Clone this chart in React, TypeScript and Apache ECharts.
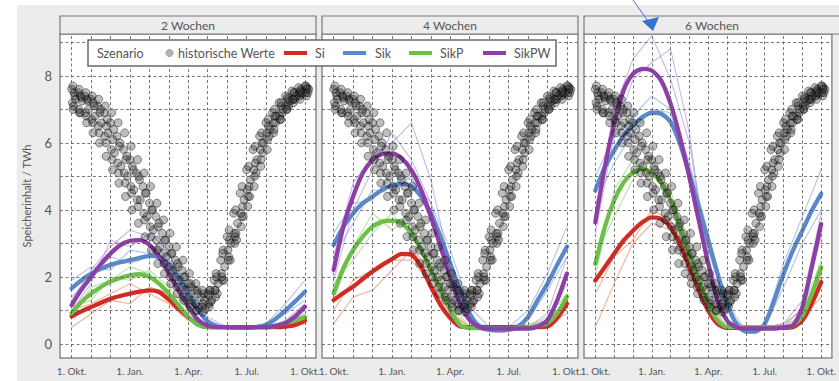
import React, { useEffect, useRef } from 'react';
import * as echarts from 'echarts';

const PANEL_TITLES = ['2 Wochen', '4 Wochen', '6 Wochen'];
const SCENARIOS = ['Si', 'Sik', 'SikP', 'SikPW'];
const X_TICK_VALUES = [0, 3, 6, 9, 12];
const X_TICK_LABELS = ['1. Okt.', '1. Jan.', '1. Apr.', '1. Jul.', '1. Okt.'];
const Y_TICK_VALUES = [0, 2, 4, 6, 8];
const MONTH_GRID = [0, 1, 2, 3, 4, 5, 6, 7, 8, 9, 10, 11, 12];
const VALUE_GRID = [0, 1, 2, 3, 4, 5, 6, 7, 8, 9];

// x positions: months since 1 Oct
const HALF_MONTHS = [0, 0.5, 1, 1.5, 2, 2.5, 3, 3.5, 4, 4.5, 5, 5.5, 6, 6.5, 7, 7.5, 8, 8.5, 9, 9.5, 10, 10.5, 11, 11.5, 12];
const MONTHS = [0, 1, 2, 3, 4, 5, 6, 7, 8, 9, 10, 11, 12];
const HIST_X = [0, 0.33, 0.67, 1, 1.33, 1.67, 2, 2.33, 2.67, 3, 3.33, 3.67, 4, 4.33, 4.67, 5, 5.33, 5.67, 6, 6.33, 6.67, 7, 7.33, 7.67, 8, 8.33, 8.67, 9, 9.33, 9.67, 10, 10.33, 10.67, 11, 11.33, 11.67, 12];
const HIST_SHIFT = [0, 0.08, 0.16, 0.04, 0.12, 0.2, 0.1, 0.06];

// historical storage levels (TWh), one array per year
const HIST_Y1 = [7.6, 7.5, 7.4, 7.3, 7.1, 6.9, 6.6, 6.2, 5.8, 5.5, 5.1, 4.7, 4.2, 3.8, 3.3, 2.9, 2.5, 2.2, 1.8, 1.6, 1.4, 1.5, 1.9, 2.5, 3.2, 3.9, 4.5, 5.2, 5.8, 6.2, 6.6, 6.9, 7.2, 7.4, 7.55, 7.65, 7.7];
const HIST_Y2 = [7.0, 6.9, 6.8, 6.6, 6.3, 6.0, 5.5, 5.1, 4.8, 4.5, 4.1, 3.7, 3.2, 2.8, 2.4, 2.0, 1.7, 1.4, 1.2, 1.0, 0.95, 1.1, 1.4, 1.9, 2.6, 3.2, 3.8, 4.4, 5.0, 5.5, 6.1, 6.4, 6.7, 7.0, 7.2, 7.3, 7.4];
const HIST_Y3 = [7.4, 7.35, 7.25, 7.1, 7.0, 6.7, 6.4, 6.0, 5.6, 5.2, 4.9, 4.5, 4.0, 3.6, 3.1, 2.7, 2.3, 2.0, 1.7, 1.5, 1.3, 1.25, 1.5, 1.9, 2.5, 3.1, 3.8, 4.4, 5.1, 5.7, 6.2, 6.6, 6.9, 7.1, 7.3, 7.45, 7.5];
const HIST_Y4 = [7.2, 7.0, 6.9, 6.7, 6.5, 6.2, 5.8, 5.4, 5.1, 4.7, 4.3, 3.9, 3.5, 3.1, 2.7, 2.3, 2.0, 1.7, 1.4, 1.2, 1.1, 1.2, 1.6, 2.1, 2.8, 3.3, 3.9, 4.6, 5.2, 5.8, 6.3, 6.6, 6.8, 7.1, 7.3, 7.4, 7.5];
const HIST_Y5 = [7.5, 7.4, 7.3, 7.2, 6.9, 6.5, 6.1, 5.9, 5.5, 5.3, 5.0, 4.5, 4.0, 3.5, 3.1, 2.7, 2.4, 2.0, 1.8, 1.6, 1.5, 1.6, 2.0, 2.8, 3.1, 3.3, 4.1, 4.7, 5.4, 6.0, 6.5, 6.8, 7.1, 7.3, 7.5, 7.6, 7.65];
const HIST_Y6 = [7.3, 7.25, 7.0, 6.8, 6.6, 6.3, 5.7, 5.3, 5.0, 4.6, 4.3, 3.8, 3.4, 2.9, 2.6, 2.2, 1.9, 1.6, 1.3, 1.1, 1.05, 1.3, 1.8, 2.3, 3.0, 3.6, 4.3, 4.9, 5.5, 6.0, 6.4, 6.8, 7.0, 7.25, 7.4, 7.5, 7.6];
const HIST_Y7 = [7.1, 6.9, 6.6, 6.3, 6.0, 5.6, 5.2, 4.8, 4.4, 4.0, 3.6, 3.2, 2.8, 2.4, 2.1, 1.8, 1.5, 1.3, 1.1, 1.0, 1.2, 1.6, 2.1, 2.7, 3.4, 4.0, 4.7, 5.3, 5.9, 6.3, 6.7, 7.0, 7.2, 7.35, 7.5, 7.55, 7.6];
const HIST_Y8 = [7.7, 7.6, 7.5, 7.4, 7.3, 7.1, 6.9, 6.6, 6.3, 5.9, 5.5, 5.1, 4.7, 4.2, 3.7, 3.3, 2.9, 2.5, 2.1, 1.8, 1.6, 1.45, 1.6, 2.0, 2.5, 3.0, 3.5, 4.1, 4.7, 5.3, 5.8, 6.3, 6.7, 7.0, 7.3, 7.5, 7.7];
const HIST_YEARS = [HIST_Y1, HIST_Y2, HIST_Y3, HIST_Y4, HIST_Y5, HIST_Y6, HIST_Y7, HIST_Y8];

// scenario means, half-monthly (TWh)
const MEAN_2W_SI = [0.82, 0.97, 1.1, 1.23, 1.35, 1.43, 1.5, 1.56, 1.6, 1.55, 1.32, 1.05, 0.8, 0.6, 0.5, 0.5, 0.5, 0.5, 0.5, 0.5, 0.5, 0.5, 0.52, 0.57, 0.7];
const MEAN_2W_SIK = [1.66, 1.9, 2.1, 2.24, 2.36, 2.44, 2.5, 2.57, 2.63, 2.6, 2.36, 1.96, 1.51, 1.01, 0.67, 0.52, 0.5, 0.48, 0.48, 0.5, 0.57, 0.75, 1.0, 1.27, 1.56];
const MEAN_2W_SIKP = [0.92, 1.25, 1.5, 1.7, 1.86, 1.97, 2.05, 2.08, 2.0, 1.8, 1.5, 1.16, 0.82, 0.57, 0.5, 0.5, 0.5, 0.5, 0.5, 0.5, 0.5, 0.54, 0.62, 0.7, 0.8];
const MEAN_2W_SIKPW = [1.16, 1.62, 2.0, 2.38, 2.7, 2.95, 3.08, 3.1, 2.96, 2.6, 2.1, 1.6, 1.11, 0.72, 0.54, 0.5, 0.5, 0.5, 0.5, 0.5, 0.5, 0.54, 0.62, 0.82, 1.11];

const MEAN_4W_SI = [1.31, 1.52, 1.71, 1.94, 2.16, 2.36, 2.53, 2.69, 2.66, 2.31, 1.71, 1.16, 0.77, 0.52, 0.5, 0.5, 0.5, 0.5, 0.5, 0.5, 0.5, 0.5, 0.52, 0.77, 1.2];
const MEAN_4W_SIK = [2.96, 3.5, 3.9, 4.2, 4.4, 4.6, 4.72, 4.78, 4.7, 4.4, 3.9, 3.2, 2.4, 1.6, 0.91, 0.52, 0.42, 0.4, 0.42, 0.52, 0.81, 1.31, 1.8, 2.36, 2.9];
const MEAN_4W_SIKP = [1.51, 2.26, 2.8, 3.2, 3.5, 3.65, 3.68, 3.6, 3.3, 2.8, 2.21, 1.61, 1.01, 0.57, 0.47, 0.47, 0.47, 0.47, 0.47, 0.47, 0.5, 0.54, 0.62, 0.92, 1.41];
const MEAN_4W_SIKPW = [2.21, 3.5, 4.4, 5.1, 5.49, 5.67, 5.69, 5.54, 5.19, 4.6, 3.8, 2.9, 2.0, 1.2, 0.71, 0.5, 0.46, 0.46, 0.46, 0.46, 0.46, 0.52, 0.71, 1.3, 2.1];

const MEAN_6W_SI = [1.89, 2.29, 2.69, 3.08, 3.38, 3.63, 3.78, 3.73, 3.48, 2.98, 2.29, 1.59, 0.99, 0.6, 0.48, 0.48, 0.48, 0.48, 0.48, 0.48, 0.48, 0.5, 0.7, 1.2, 1.84];
const MEAN_6W_SIK = [4.58, 5.27, 5.77, 6.22, 6.52, 6.77, 6.9, 6.87, 6.62, 5.97, 5.07, 4.08, 3.08, 2.09, 1.19, 0.6, 0.37, 0.37, 0.6, 1.29, 2.09, 2.79, 3.38, 3.98, 4.48];
const MEAN_6W_SIKP = [2.39, 3.48, 4.28, 4.82, 5.12, 5.22, 5.12, 4.82, 4.28, 3.48, 2.69, 1.89, 1.19, 0.7, 0.5, 0.5, 0.5, 0.5, 0.5, 0.5, 0.5, 0.55, 0.84, 1.49, 2.29];
const MEAN_6W_SIKPW = [3.63, 5.27, 6.57, 7.56, 8.06, 8.21, 8.16, 7.86, 7.17, 6.17, 4.97, 3.68, 2.39, 1.29, 0.7, 0.5, 0.46, 0.46, 0.46, 0.46, 0.5, 0.55, 1.1, 2.29, 3.58];

// single-year scenario runs, monthly (TWh)
const RUNS_2W_SI = [[0.5, 0.9, 1.3, 1.2, 1.7, 1.5, 0.8, 0.5, 0.5, 0.5, 0.5, 0.5, 0.6], [1.0, 1.2, 1.5, 1.8, 1.5, 1.2, 0.7, 0.5, 0.5, 0.5, 0.5, 0.6, 0.9]];
const RUNS_2W_SIK = [[1.9, 2.3, 2.2, 2.8, 2.7, 2.3, 1.5, 0.7, 0.5, 0.5, 0.6, 1.2, 1.9], [1.4, 2.0, 2.6, 2.4, 2.6, 2.5, 1.7, 0.8, 0.5, 0.5, 0.5, 0.9, 1.3]];
const RUNS_2W_SIKP = [[0.8, 1.7, 1.9, 2.3, 2.1, 1.6, 0.8, 0.5, 0.5, 0.5, 0.5, 0.6, 0.7], [1.1, 1.3, 2.0, 1.9, 2.2, 1.7, 1.0, 0.5, 0.5, 0.5, 0.5, 0.7, 1.0]];
const RUNS_2W_SIKPW = [[1.3, 2.2, 2.9, 3.4, 3.2, 2.5, 1.3, 0.6, 0.5, 0.5, 0.5, 0.7, 1.2], [1.0, 1.8, 3.1, 2.9, 3.3, 2.8, 1.1, 0.5, 0.5, 0.5, 0.5, 0.6, 1.0]];

const RUNS_4W_SI = [[0.6, 1.4, 1.6, 2.2, 2.8, 2.3, 1.0, 0.5, 0.5, 0.5, 0.5, 0.6, 0.9], [1.0, 1.9, 2.2, 2.5, 2.5, 1.8, 0.9, 0.5, 0.5, 0.5, 0.5, 0.7, 1.3]];
const RUNS_4W_SIK = [[3.3, 4.2, 4.3, 5.1, 4.9, 4.2, 2.8, 1.1, 0.5, 0.5, 1.0, 2.1, 3.5], [2.6, 3.6, 4.6, 4.5, 5.0, 3.7, 2.1, 0.8, 0.4, 0.5, 0.7, 1.6, 2.6]];
const RUNS_4W_SIKP = [[1.3, 2.9, 3.9, 3.4, 3.8, 2.6, 1.2, 0.5, 0.5, 0.5, 0.5, 0.8, 1.5], [1.8, 2.5, 3.3, 3.9, 3.2, 2.3, 0.9, 0.5, 0.5, 0.5, 0.6, 0.7, 1.2]];
const RUNS_4W_SIKPW = [[2.6, 4.8, 5.6, 6.0, 6.6, 4.9, 2.3, 0.7, 0.5, 0.5, 0.5, 0.9, 2.6], [1.9, 4.0, 5.2, 6.3, 5.5, 4.2, 1.8, 0.6, 0.5, 0.5, 0.5, 0.7, 1.8]];

const RUNS_6W_SI = [[0.5, 1.8, 3.0, 3.6, 3.4, 2.3, 1.0, 0.5, 0.5, 0.5, 0.5, 0.8, 1.4], [1.5, 2.6, 3.1, 4.0, 3.7, 2.6, 1.2, 0.5, 0.5, 0.5, 0.6, 1.0, 2.0]];
const RUNS_6W_SIK = [[5.0, 6.2, 6.8, 7.4, 7.0, 5.4, 3.3, 1.2, 0.4, 0.6, 2.4, 3.8, 5.2], [4.2, 5.4, 6.3, 7.0, 6.9, 5.0, 2.8, 1.0, 0.4, 0.5, 1.7, 3.0, 4.0]];
const RUNS_6W_SIKP = [[2.0, 4.6, 5.5, 5.0, 4.6, 2.9, 1.3, 0.5, 0.5, 0.5, 0.6, 1.0, 2.5], [2.6, 3.8, 4.9, 5.6, 4.2, 2.5, 1.0, 0.5, 0.5, 0.5, 0.5, 0.9, 1.9]];
const RUNS_6W_SIKPW = [[3.8, 7.0, 8.5, 9.2, 7.9, 6.0, 2.6, 0.7, 0.5, 0.5, 0.6, 1.3, 3.9], [3.3, 6.2, 7.9, 8.4, 8.8, 6.3, 2.2, 0.6, 0.5, 0.5, 0.5, 1.1, 3.2]];

const MEANS = [
  [MEAN_2W_SI, MEAN_2W_SIK, MEAN_2W_SIKP, MEAN_2W_SIKPW],
  [MEAN_4W_SI, MEAN_4W_SIK, MEAN_4W_SIKP, MEAN_4W_SIKPW],
  [MEAN_6W_SI, MEAN_6W_SIK, MEAN_6W_SIKP, MEAN_6W_SIKPW],
];
const RUNS = [
  [RUNS_2W_SI, RUNS_2W_SIK, RUNS_2W_SIKP, RUNS_2W_SIKPW],
  [RUNS_4W_SI, RUNS_4W_SIK, RUNS_4W_SIKP, RUNS_4W_SIKPW],
  [RUNS_6W_SI, RUNS_6W_SIK, RUNS_6W_SIKP, RUNS_6W_SIKPW],
];

const COLORS = ['#d42a24', '#5b88c9', '#6cc04a', '#8d3fa8'];
const THIN_COLORS = ['#ef8f68', '#8ea6de', '#98d483', '#b597df'];
const FONT = 'Lato, "Open Sans", sans-serif';
const TEXT = '#555';

const PANEL_LEFT = [60, 322, 584];
const PANEL_W = 256;
const PANEL_TOP = 34;
const PANEL_H = 324;

export default function App() {
  const ref = useRef<HTMLDivElement>(null);

  useEffect(() => {
    if (!ref.current) return;
    const chart = echarts.init(ref.current, undefined, { renderer: 'svg' });

    const grids: any[] = [];
    const xAxes: any[] = [];
    const yAxes: any[] = [];
    const series: any[] = [];

    PANEL_TITLES.forEach((_, p) => {
      grids.push({
        left: PANEL_LEFT[p], top: PANEL_TOP, width: PANEL_W, height: PANEL_H,
        show: true, backgroundColor: '#fff', borderColor: '#8a8a8a', borderWidth: 1.5,
      });
      xAxes.push({
        gridIndex: p, type: 'value', min: -0.6, max: 12.57,
        axisLine: { show: false }, axisTick: { show: false }, splitLine: { show: false },
        axisLabel: {
          customValues: X_TICK_VALUES,
          formatter: (v: number) => X_TICK_LABELS[X_TICK_VALUES.indexOf(Math.round(v))] ?? '',
          color: TEXT, fontSize: 10, fontFamily: FONT, margin: 8,
        },
      });
      yAxes.push({
        gridIndex: p, type: 'value', min: -0.42, max: 9.25,
        name: p === 0 ? 'Speicherinhalt / TWh' : '',
        nameLocation: 'middle', nameGap: 28,
        nameTextStyle: { color: TEXT, fontSize: 11, fontFamily: FONT },
        axisLine: { show: false }, axisTick: { show: false }, splitLine: { show: false },
        axisLabel: {
          show: p === 0, customValues: Y_TICK_VALUES,
          color: TEXT, fontSize: 13, fontFamily: FONT, margin: 8,
        },
      });

      // dashed grid
      series.push({
        type: 'line', xAxisIndex: p, yAxisIndex: p, data: [], silent: true, z: 1,
        markLine: {
          silent: true, symbol: ['none', 'none'], label: { show: false },
          lineStyle: { color: '#555', width: 0.8, type: [3, 2.5] },
          emphasis: { disabled: true },
          data: [
            ...MONTH_GRID.map((m) => ({ xAxis: m })),
            ...VALUE_GRID.map((v) => ({ yAxis: v })),
          ],
        },
      });

      // single runs
      SCENARIOS.forEach((s, k) => {
        RUNS[p][k].forEach((run, r) => {
          series.push({
            type: 'line', name: `${s}-run${r}`, xAxisIndex: p, yAxisIndex: p,
            data: MONTHS.map((m, i) => [m, run[i]]),
            symbol: 'none', silent: true, z: 2,
            lineStyle: { color: THIN_COLORS[k], width: 1.1, opacity: 0.7 },
          });
        });
      });

      // means
      SCENARIOS.forEach((s, k) => {
        series.push({
          type: 'line', name: s, xAxisIndex: p, yAxisIndex: p,
          data: HALF_MONTHS.map((m, i) => [m, MEANS[p][k][i]]),
          symbol: 'none', smooth: 0.25, silent: true, z: 3,
          lineStyle: { color: COLORS[k], width: 4.3, cap: 'round' },
        });
      });

      // historical
      HIST_YEARS.forEach((ys, y) => {
        series.push({
          type: 'scatter', name: 'historische Werte', xAxisIndex: p, yAxisIndex: p,
          data: HIST_X.map((m, i) => [m + HIST_SHIFT[y], ys[i]]),
          symbolSize: 8, silent: true, z: 4,
          itemStyle: { color: 'rgba(40,40,40,0.38)', borderColor: 'rgba(0,0,0,0.65)', borderWidth: 0.8 },
        });
      });
    });

    const graphic: any[] = [
      { type: 'rect', z: -10, shape: { x: 17, y: 5, width: 830, height: 380 }, style: { fill: '#ececec' } },
    ];
    PANEL_TITLES.forEach((t, p) => {
      graphic.push({
        type: 'rect', z: 5, shape: { x: PANEL_LEFT[p], y: 16, width: PANEL_W, height: 18 },
        style: { fill: '#ececec', stroke: '#7a7a7a', lineWidth: 1.2 },
      });
      graphic.push({
        type: 'text', z: 6, x: PANEL_LEFT[p] + PANEL_W / 2, y: 25,
        style: { text: t, fill: TEXT, font: `12px ${FONT}`, align: 'center', verticalAlign: 'middle', textAlign: 'center', textVerticalAlign: 'middle' },
      });
    });

    // legend box
    const LY = 53;
    const LFONT = `12.5px ${FONT}`;
    graphic.push({ type: 'rect', z: 100, shape: { x: 88, y: 40, width: 468, height: 26 }, style: { fill: '#fff', stroke: '#6a6a6a', lineWidth: 1.5 } });
    graphic.push({ type: 'text', z: 101, x: 97, y: LY, style: { text: 'Szenario', fill: TEXT, font: LFONT, verticalAlign: 'middle', textVerticalAlign: 'middle' } });
    graphic.push({ type: 'circle', z: 101, shape: { cx: 169.5, cy: LY, r: 3.5 }, style: { fill: '#b5b5b5', stroke: '#8a8a8a', lineWidth: 0.8 } });
    graphic.push({ type: 'text', z: 101, x: 178, y: LY, style: { text: 'historische Werte', fill: TEXT, font: LFONT, verticalAlign: 'middle', textVerticalAlign: 'middle' } });
    const legendLineX = [284, 343, 409, 483];
    const legendTextX = [315, 375, 440, 514];
    SCENARIOS.forEach((s, k) => {
      graphic.push({ type: 'line', z: 101, shape: { x1: legendLineX[k], y1: LY, x2: legendLineX[k] + 23, y2: LY }, style: { stroke: COLORS[k], lineWidth: 4 } });
      graphic.push({ type: 'text', z: 101, x: legendTextX[k], y: LY, style: { text: s, fill: TEXT, font: LFONT, verticalAlign: 'middle', textVerticalAlign: 'middle' } });
    });

    // annotation arrow
    graphic.push({ type: 'line', z: 110, shape: { x1: 633, y1: 0, x2: 650, y2: 24 }, style: { stroke: '#3a6fd2', lineWidth: 1 } });
    graphic.push({ type: 'polygon', z: 110, shape: { points: [[653, 31], [642, 21], [659, 17]] }, style: { fill: '#3a6fd2' } });

    chart.setOption({
      animation: false,
      backgroundColor: '#fff',
      textStyle: { fontFamily: FONT },
      grid: grids,
      xAxis: xAxes,
      yAxis: yAxes,
      series,
      graphic,
    });

    return () => chart.dispose();
  }, []);

  return (
    <div style={{ position: 'fixed', left: 0, top: 0, width: 839, height: 381, background: '#fff' }}>
      <div ref={ref} style={{ width: 839, height: 381 }} />
    </div>
  );
}
